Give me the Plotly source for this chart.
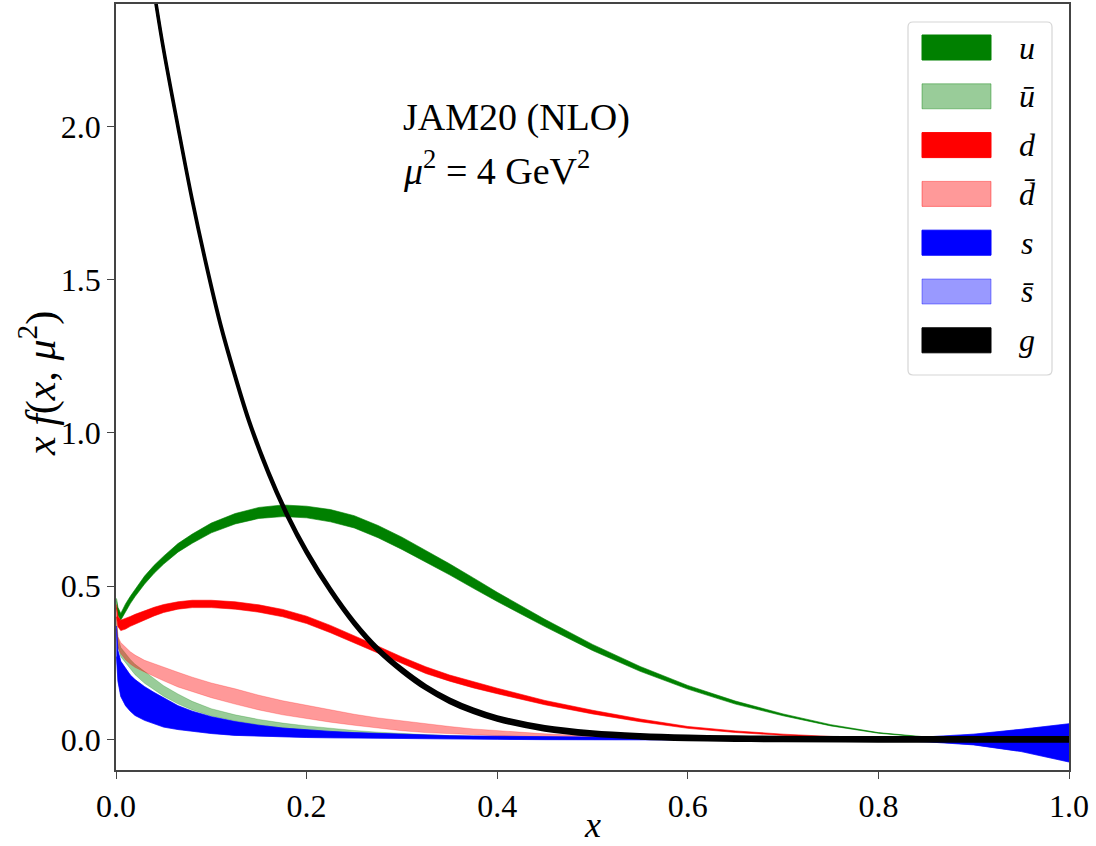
import plotly.graph_objects as go

# ---------------- data ----------------
X = [0.0005, 0.002, 0.005, 0.01, 0.015, 0.02, 0.03, 0.04, 0.05, 0.065, 0.08, 0.1,
     0.125, 0.15, 0.175, 0.2, 0.225, 0.25, 0.275, 0.3, 0.325, 0.35, 0.375, 0.4,
     0.45, 0.5, 0.55, 0.6, 0.65, 0.7, 0.75, 0.8, 0.85, 0.9, 0.95, 1.0]

# central values and half-widths of each band
u_mid = [0.445, 0.418, 0.40, 0.43, 0.455, 0.478, 0.52, 0.555, 0.585, 0.625, 0.655, 0.69,
         0.72, 0.739, 0.746, 0.742, 0.73, 0.71, 0.678, 0.64, 0.598, 0.555, 0.51, 0.465,
         0.38, 0.30, 0.23, 0.17, 0.12, 0.08, 0.046, 0.021, 0.007, 0.0015, 0.0002, 0.0]
u_err = [0.015, 0.013, 0.011, 0.012, 0.012, 0.012, 0.013, 0.013, 0.013, 0.014, 0.015, 0.016,
         0.017, 0.018, 0.019, 0.019, 0.02, 0.02, 0.02, 0.02, 0.019, 0.018, 0.017, 0.015,
         0.012, 0.01, 0.008, 0.006, 0.005, 0.003, 0.002, 0.001, 0.001, 0.0005, 0.0, 0.0]

ubar_mid = [0.38, 0.318, 0.285, 0.264, 0.245, 0.228, 0.202, 0.18, 0.158, 0.132, 0.11, 0.088,
            0.07, 0.056, 0.045, 0.037, 0.03, 0.024, 0.019, 0.015, 0.012, 0.0095, 0.0075, 0.006,
            0.0035, 0.002, 0.001, 0.0005, 0.0, 0.0, 0.0, 0.0, 0.0, 0.0, 0.0, 0.0]
ubar_err = [0.02, 0.017, 0.015, 0.015, 0.016, 0.017, 0.019, 0.018, 0.017, 0.016, 0.014, 0.012,
            0.01, 0.009, 0.008, 0.007, 0.006, 0.005, 0.0045, 0.004, 0.0035, 0.003, 0.0025, 0.002,
            0.0015, 0.001, 0.0005, 0.0003, 0.0, 0.0, 0.0, 0.0, 0.0, 0.0, 0.0, 0.0]

d_mid = [0.42, 0.385, 0.372, 0.377, 0.385, 0.392, 0.405, 0.417, 0.427, 0.437, 0.442, 0.442,
         0.437, 0.427, 0.412, 0.39, 0.36, 0.327, 0.292, 0.258, 0.226, 0.2, 0.178, 0.158,
         0.12, 0.089, 0.062, 0.039, 0.025, 0.015, 0.008, 0.004, 0.0015, 0.0003, 0.0, 0.0]
d_err = [0.02, 0.017, 0.017, 0.017, 0.016, 0.016, 0.015, 0.014, 0.013, 0.012, 0.012, 0.012,
         0.012, 0.012, 0.012, 0.012, 0.012, 0.012, 0.012, 0.011, 0.011, 0.01, 0.01, 0.009,
         0.007, 0.006, 0.0045, 0.003, 0.0025, 0.002, 0.0015, 0.001, 0.0005, 0.0002, 0.0, 0.0]

dbar_mid = [0.38, 0.318, 0.298, 0.28, 0.266, 0.255, 0.239, 0.226, 0.213, 0.195, 0.179, 0.16,
            0.14, 0.12, 0.103, 0.089, 0.076, 0.064, 0.053, 0.044, 0.036, 0.03, 0.024, 0.02,
            0.012, 0.007, 0.004, 0.002, 0.001, 0.0004, 0.0, 0.0, 0.0, 0.0, 0.0, 0.0]
dbar_err = [0.02, 0.017, 0.018, 0.02, 0.02, 0.02, 0.019, 0.021, 0.022, 0.024, 0.024, 0.024,
            0.025, 0.024, 0.023, 0.022, 0.02, 0.018, 0.017, 0.016, 0.014, 0.012, 0.01, 0.008,
            0.006, 0.004, 0.003, 0.0015, 0.001, 0.0004, 0.0, 0.0, 0.0, 0.0, 0.0, 0.0]

s_lo = [0.27, 0.19, 0.14, 0.11, 0.092, 0.078, 0.062, 0.05, 0.04, 0.032, 0.026, 0.019,
        0.013, 0.01, 0.008, 0.006, 0.005, 0.004, 0.003, 0.002, 0.0015, 0.001, 0.0005, 0.0,
        -0.001, -0.001, -0.002, -0.002, -0.002, -0.002, -0.002, -0.003, -0.008, -0.018,
        -0.04, -0.074]
s_hi = [0.37, 0.29, 0.255, 0.232, 0.21, 0.195, 0.172, 0.153, 0.135, 0.11, 0.092, 0.074,
        0.058, 0.046, 0.037, 0.031, 0.026, 0.022, 0.019, 0.016, 0.014, 0.012, 0.011, 0.01,
        0.008, 0.007, 0.006, 0.005, 0.004, 0.004, 0.003, 0.003, 0.008, 0.017, 0.033, 0.051]

# strange-antiquark band (same as s in this fit)
sbar_lo = list(s_lo)
sbar_hi = list(s_hi)

G_X = [0.03, 0.04, 0.05, 0.065, 0.08, 0.095, 0.11, 0.125, 0.14, 0.16, 0.18, 0.2, 0.225,
       0.25, 0.275, 0.3, 0.325, 0.35, 0.375, 0.4, 0.45, 0.5, 0.55, 0.6, 0.65, 0.7, 0.8,
       0.9, 1.0]
g_mid = [2.64, 2.44, 2.25, 2.0, 1.76, 1.545, 1.35, 1.185, 1.035, 0.87, 0.73, 0.612, 0.487,
         0.38, 0.293, 0.226, 0.17, 0.126, 0.093, 0.068, 0.036, 0.019, 0.01, 0.005, 0.0025,
         0.0012, 0.0002, 0.0, 0.0]
g_err = [0.006] * len(G_X)

X_TICKS = [0.0, 0.2, 0.4, 0.6, 0.8, 1.0]
X_TICK_TEXT = ["0.0", "0.2", "0.4", "0.6", "0.8", "1.0"]
Y_TICKS = [0.0, 0.5, 1.0, 1.5, 2.0]
Y_TICK_TEXT = ["0.0", "0.5", "1.0", "1.5", "2.0"]

LEGEND_LABELS = ["<i>u</i>", "<i>ū</i>", "<i>d</i>", "<i>d\u0304</i>", "<i>s</i>",
                 "<i>s\u0304</i>", "<i>g</i>"]

# ---------------- styling ----------------
C_U = "rgb(0,128,0)"
C_UBAR = "rgba(0,128,0,0.4)"
C_D = "rgb(255,0,0)"
C_DBAR = "rgba(255,0,0,0.4)"
C_S = "rgb(0,0,255)"
C_SBAR = "rgba(0,0,255,0.4)"
C_G = "rgb(0,0,0)"
LEGEND_COLORS = [C_U, C_UBAR, C_D, C_DBAR, C_S, C_SBAR, C_G]

fig = go.Figure()


def band(xs, lo, hi, color, lw=0.6, shape="linear"):
    ln = dict(color=color, width=lw, shape=shape)
    fig.add_trace(go.Scatter(x=xs, y=lo, mode="lines", line=ln,
                             hoverinfo="skip", showlegend=False))
    fig.add_trace(go.Scatter(x=xs, y=hi, mode="lines", fill="tonexty", fillcolor=color,
                             line=ln, hoverinfo="skip", showlegend=False))


def lohi(mid, err):
    return [m - e for m, e in zip(mid, err)], [m + e for m, e in zip(mid, err)]


band(X, *lohi(u_mid, u_err), C_U)
band(X, *lohi(ubar_mid, ubar_err), C_UBAR)
band(X, *lohi(d_mid, d_err), C_D)
band(X, *lohi(dbar_mid, dbar_err), C_DBAR)
band(X, s_lo, s_hi, C_S)
band(X, sbar_lo, sbar_hi, C_SBAR)
band(G_X, *lohi(g_mid, g_err), C_G, lw=3, shape="spline")

# ---------------- layout ----------------
W, H = 1096, 846
ML, MR, MT, MB = 116, 27, 4, 76
PW, PH = W - ML - MR, H - MT - MB


def px2paper_x(px):
    return (px - ML) / PW


def px2paper_y(py):
    return (H - MB - py) / PH


TICK_FONT = dict(family="Liberation Serif", size=32, color="black")
AX = dict(ticks="outside", ticklen=7, tickwidth=1.2, tickcolor="#444", showline=True,
          linecolor="#444", linewidth=1.5, mirror=True, showgrid=False, zeroline=False,
          tickfont=TICK_FONT, automargin=False)

fig.update_layout(
    width=W, height=H,
    margin=dict(l=ML, r=MR, t=MT, b=MB, autoexpand=False),
    paper_bgcolor="white", plot_bgcolor="white",
    showlegend=False,
    xaxis=dict(range=[0, 1], tickvals=X_TICKS, ticktext=X_TICK_TEXT, **AX),
    yaxis=dict(range=[-0.1, 2.4], tickvals=Y_TICKS, ticktext=Y_TICK_TEXT, **AX),
)

# axis titles
fig.add_annotation(xref="paper", yref="paper", x=0.5, y=px2paper_y(825),
                   xanchor="center", yanchor="middle", showarrow=False, text="<i>x</i>",
                   font=dict(family="Liberation Serif", size=36, color="black"))
fig.add_annotation(xref="paper", yref="paper", x=px2paper_x(38), y=px2paper_y(384),
                   xanchor="center", yanchor="middle", showarrow=False, textangle=-90,
                   text="<i>x f</i>(<i>x</i>, <i>μ</i><sup>2</sup>)",
                   font=dict(family="Liberation Serif", size=42, color="black"))

# text block
fig.add_annotation(xref="paper", yref="paper", x=px2paper_x(401), y=px2paper_y(118),
                   xanchor="left", yanchor="middle", showarrow=False,
                   text="JAM20 (NLO)", font=dict(family="Liberation Serif", size=38, color="black"))
fig.add_annotation(xref="paper", yref="paper", x=px2paper_x(401), y=px2paper_y(168),
                   xanchor="left", yanchor="middle", showarrow=False,
                   text="<i>μ</i><sup>2</sup> = 4 GeV<sup>2</sup>",
                   font=dict(family="Liberation Serif", size=38, color="black"))

# hand-built legend (matplotlib style: wide colour swatches)
bx0, bx1 = px2paper_x(908), px2paper_x(1052)
by0, by1 = px2paper_y(375), px2paper_y(22)
rx, ry = 5 / PW, 5 / PH
path = (f"M{bx0+rx},{by0} L{bx1-rx},{by0} Q{bx1},{by0} {bx1},{by0+ry} L{bx1},{by1-ry} "
        f"Q{bx1},{by1} {bx1-rx},{by1} L{bx0+rx},{by1} Q{bx0},{by1} {bx0},{by1-ry} "
        f"L{bx0},{by0+ry} Q{bx0},{by0} {bx0+rx},{by0} Z")
fig.add_shape(type="path", path=path, xref="paper", yref="paper",
              line=dict(color="#d6d6d6", width=1.2), fillcolor="rgba(255,255,255,0.85)")
for i, (lab, col) in enumerate(zip(LEGEND_LABELS, LEGEND_COLORS)):
    cy = 47.5 + 48.8 * i
    fig.add_shape(type="rect", xref="paper", yref="paper",
                  x0=px2paper_x(922), x1=px2paper_x(991),
                  y0=px2paper_y(cy + 12.5), y1=px2paper_y(cy - 12.5),
                  fillcolor=col, line=dict(color=col, width=1))
    fig.add_annotation(xref="paper", yref="paper", x=px2paper_x(1027), y=px2paper_y(cy),
                       xanchor="center", yanchor="middle", showarrow=False, text=lab,
                       font=dict(family="Liberation Serif", size=32, color="black"))

fig.write_html("out.html", config={"displayModeBar": False},
               post_script="document.body.style.margin='0';")
